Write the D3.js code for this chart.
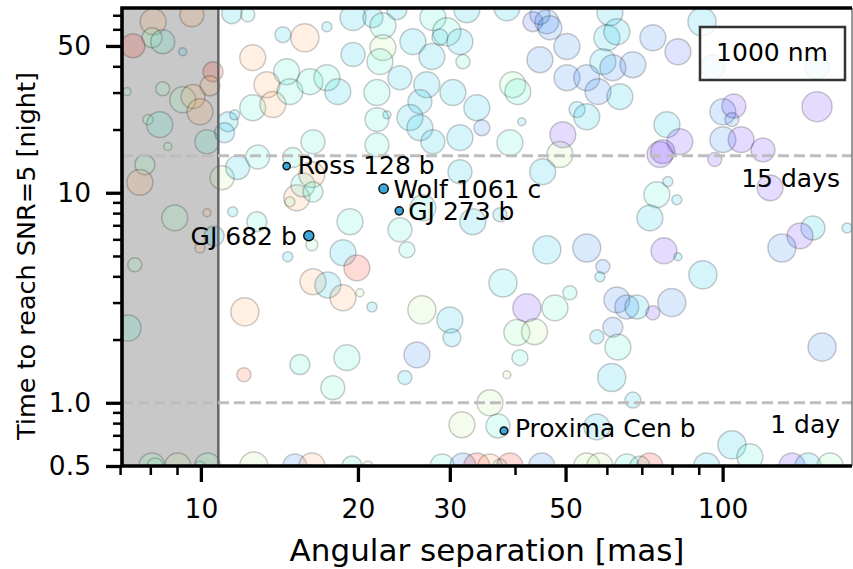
<!DOCTYPE html>
<meta charset="utf-8">
<html>
<head>
<style>
  body { margin: 0; background: #fff; }
  svg text { font-family: "DejaVu Sans", sans-serif; fill: #000; }
</style>
</head>
<body>
<svg width="853" height="569" id="chart"></svg>
<script src="https://d3js.org/d3.v7.min.js"></script>
<script>
// background planets: [separation mas, time nights, size, distance pc]
var bubbleSep = [8.10,9.61,7.41,8.06,8.45,9.23,10.55,10.41,8.45,9.23,9.66,9.96,7.92,8.34,8.64,10.27,7.81,7.64,10.98,8.91,
  10.27,7.47,7.25,7.22,9.96,10.6,11.27,11.61,11.1,12.57,11.76,11.51,12.8,14.36,12.57,14.6,13.38,13.74,14.81,12.3,
  15.27,15.69,12.85,15.0,11.46,14.81,16.32,15.82,17.44,19.57,21.37,22.33,23.75,27.84,29.6,28.72,31.37,32.34,25.49,19.57,
  22.33,22.04,27.72,31.79,16.18,17.44,18.3,21.75,27.1,26.29,30.41,33.8,21.75,22.73,25.16,26.29,27.84,31.37,34.56,16.4,
  21.75,16.4,19.31,26.64,31.37,33.2,24.07,38.6,43.29,46.03,44.65,46.66,60.81,60.0,62.7,50.3,44.65,73.5,58.95,61.6,
  67.3,50.3,54.9,57.7,63.55,39.6,40.5,52.6,54.9,41.2,49.4,39.11,48.76,45.2,37.43,75.82,74.8,72.54,78.5,81.7,
  91.3,82.1,95.8,151.7,100.1,105.1,104.2,100.1,108.5,119.5,96.6,151.7,78.2,82.8,76.8,123.3,149.0,140.7,173.2,129.9,
  12.14,12.09,14.67,15.48,16.4,16.32,18.72,19.91,17.51,18.72,20.17,21.28,24.83,26.52,30.01,30.28,25.95,19.05,24.6,17.9,
  31.65,46.03,54.9,58.95,58.18,77.2,37.93,50.97,42.15,47.7,40.33,43.6,40.88,38.6,62.7,65.5,68.5,73.5,61.6,57.4,
  63.0,61.3,67.3,35.81,57.4,37.1,82.1,91.65,79.9,155.1,104.2,112.8,24.07,
  8.06,8.17,9.03,9.96,10.3,12.63,15.14,16.32,19.48,20.9,29.0,31.79,33.8,35.81,37.43,39.11,45.0,54.9,58.18,65.5,
  69.41,72.54,93.2,135.8,145.8,160.7];
var bubbleTime = [65.2,70.4,50.1,54.7,52.4,46.9,37.7,32.3,31.3,27.7,28.7,24.3,22.3,21.1,16.6,17.5,13.6,11.2,11.8,7.59,
  8.03,4.54,2.27,30.3,5.46,6.23,21.8,23.5,19.3,25.4,13.2,8.12,7.28,56.6,44.0,37.7,32.7,26.3,30.3,70.4,
  9.46,10.9,14.8,14.7,71.2,9.06,12.2,54.7,61.7,68.2,68.2,62.4,74.4,68.2,58.4,55.1,52.4,74.4,52.4,45.5,
  49.1,42.1,44.5,42.1,33.8,35.3,30.3,30.0,32.7,27.1,30.0,25.4,22.3,23.5,22.8,20.4,17.5,18.3,20.4,17.5,
  16.9,10.1,7.28,8.48,12.6,7.28,35.3,76.0,65.2,65.2,70.4,61.0,72.0,54.7,58.4,49.7,43.0,54.7,42.1,39.4,
  40.7,35.3,35.3,30.3,28.7,32.7,30.3,24.9,23.0,21.8,18.9,17.3,15.2,12.6,7.86,15.2,9.79,7.59,11.3,9.26,
  65.2,46.9,39.8,39.8,24.3,25.9,22.3,17.9,17.9,16.0,14.4,25.7,21.1,17.5,15.7,10.55,6.80,6.23,6.80,5.46,
  2.71,1.36,4.96,1.52,3.77,5.65,5.18,4.39,3.64,3.16,3.34,2.86,5.35,2.77,2.48,2.04,1.69,1.64,1.32,1.18,
  0.786,5.35,5.46,4.45,3.98,5.29,3.72,3.34,2.83,2.83,2.16,2.18,1.64,1.36,3.09,2.86,2.86,2.68,2.29,2.06,
  1.84,1.32,1.03,1.0,0.768,0.776,4.96,4.07,3.0,1.84,0.631,0.553,6.66,
  0.5,0.5,0.5,0.5,0.5,0.5,0.5,0.5,0.5,0.5,0.5,0.5,0.5,0.5,0.5,0.5,0.5,0.5,0.5,0.5,
  0.5,0.5,0.5,0.5,0.5,0.5];
var bubbleSize = [1.44,1.33,1.33,1.11,1.33,0.44,1.11,1.11,0.78,1.44,1.33,1.44,0.56,1.44,0.44,1.33,1.11,1.44,1.33,1.44,
  0.44,0.78,1.44,0.44,0.56,1.11,1.11,0.56,1.11,1.44,1.33,0.56,1.11,0.89,1.44,1.44,1.44,1.44,1.44,0.78,
  1.44,1.33,1.33,1.11,1.11,0.56,1.44,1.56,0.56,1.44,1.11,1.44,1.11,1.44,1.56,0.89,1.44,1.44,1.44,1.33,
  1.44,1.44,1.44,0.78,1.44,1.44,1.44,1.44,1.44,1.33,1.44,1.44,1.33,0.44,1.44,1.44,1.33,1.44,0.89,1.33,
  1.33,1.11,1.44,1.44,1.33,1.44,1.33,1.44,1.11,1.33,1.11,1.33,1.44,1.44,1.44,1.44,1.44,1.44,1.44,1.44,
  1.44,1.44,1.44,1.44,1.44,1.44,1.44,0.89,1.44,0.44,1.44,1.44,1.44,1.44,0.78,1.44,1.44,1.44,0.56,0.56,
  1.56,1.44,1.33,1.33,1.44,1.33,0.78,1.44,1.44,1.33,0.78,1.67,1.44,1.44,1.33,1.44,1.33,1.44,0.56,1.56,
  1.56,0.78,0.56,1.11,1.44,0.67,1.44,1.44,1.44,1.44,0.44,0.56,0.89,1.56,1.44,1.0,1.44,1.44,0.78,1.33,
  1.44,1.56,1.56,0.78,0.56,1.44,1.56,0.78,1.56,1.44,1.44,1.44,0.89,0.44,1.44,1.33,1.33,0.78,1.11,0.78,
  1.44,1.56,0.89,1.44,1.44,1.33,0.44,1.56,1.56,1.56,1.56,1.44,1.33,
  1.44,0.89,1.44,0.56,1.44,1.56,1.33,1.44,1.11,0.56,1.33,1.44,1.44,1.33,0.78,1.44,1.44,1.44,1.44,1.33,
  1.11,1.44,1.44,1.44,1.44,1.44];
var bubbleDist = [8,8,9.5,5.5,4.5,3.5,9.5,8,5.5,5.5,8,8,5.5,4.5,5.5,4.5,5.5,8,6.5,5.5,
  8,5.5,4.5,5.5,8,3.5,3.5,3.5,3.5,4.5,3.5,3.5,4.5,3.5,8,4.5,8,8,4.5,4.5,
  8,4.5,4.5,4.5,3.5,5.5,8,8,3.5,3.5,3.5,4.5,3.5,4.5,4.5,3.5,3.5,3.5,3.5,3.5,
  6.5,4.5,3.5,4.5,4.5,4.5,3.5,4.5,3.5,3.5,3.5,3.5,4.5,3.5,3.5,3.5,3.5,3.5,2.5,4.5,
  4.5,4.5,4.5,4.5,3.5,3.5,3.5,3.5,2,2.5,2.5,2.5,3.5,3.5,3.5,2.5,2.5,2.5,3.5,2.5,
  2.5,2.5,2.5,2.5,3.5,5.5,4.5,3.5,3.5,3.5,1.5,4.5,6.5,3.5,3.5,1.5,4.5,3.5,3.5,3.5,
  3.5,2,3.5,3.5,2.5,1.5,2.5,2.5,1.5,1.5,1.5,1.5,3.5,1.5,1.5,1.5,3.5,1.5,3.5,2.5,
  8,9,3.5,4.5,8,5.5,3.5,9.5,3.5,8,6.5,3.5,4.5,6.5,3.5,3.5,2.5,4.5,3.5,5,
  6.5,3.5,2.5,2.5,3.5,1.5,4,4.5,1.5,5,5.5,6.5,4.5,6.5,2.5,2.5,3.5,1.5,2.5,3.5,
  4.5,3.5,3.5,6.5,3.5,4.5,3.5,3.5,2.5,2.5,3.5,4.5,4.5,
  5.5,5.5,6.5,5.5,5.5,6.5,2.5,8,4.5,6.5,4.5,2.5,9.5,8,4.5,9.5,2.5,6.5,6.5,4.5,
  4.5,9.5,3.5,1.5,3.5,5.5];

// highlighted planets
var namedPlanets = ["Ross 128 b", "Wolf 1061 c", "GJ 273 b", "GJ 682 b", "Proxima Cen b"];
var namedSep = [14.6, 22.4, 24.0, 16.1, 38.1];
var namedTime = [13.4, 10.45, 8.2, 6.24, 0.736];
var namedSize = [0.4, 0.52, 0.45, 0.56, 0.42];

var xMajor = [10, 20, 30, 50, 100];
var xMinor = [7, 8, 9, 40, 60, 70, 80, 90];
var yMajor = [0.5, 1, 10, 50];
var yMinor = [0.6, 0.7, 0.8, 0.9, 2, 3, 4, 5, 6, 7, 8, 9, 20, 30, 40, 60, 70];
var iwaLimit = 10.8;
var dayLines = [15, 1];

(function () {
var svg = d3.select("#chart"),
    pLeft = 122, pRight = 852, pTop = 8, pBottom = 466;

var x = d3.scaleLog().domain([7.06, 177]).range([pLeft, pRight]);
var y = d3.scaleLog().domain([0.5, 75.8]).range([pBottom, pTop]);
var r = d3.scaleLinear().domain([0, 1]).range([0, 9]);
var col = d3.scaleLinear().domain([1, 10]).range([0, 1]);

// matplotlib "rainbow" colormap
function rainbow(t) {
  var rr = Math.min(1, Math.abs(2 * t - 0.5)),
      gg = Math.sin(Math.PI * t),
      bb = Math.cos(Math.PI * t / 2);
  return d3.rgb(rr * 255, gg * 255, bb * 255).toString();
}

svg.append("defs").append("clipPath").attr("id", "plotclip")
  .append("rect").attr("x", pLeft).attr("y", pTop)
  .attr("width", pRight - pLeft).attr("height", pBottom - pTop);

var plot = svg.append("g").attr("clip-path", "url(#plotclip)");

// inner working angle shading
plot.append("rect")
  .attr("x", pLeft).attr("y", pTop)
  .attr("width", x(iwaLimit) - pLeft).attr("height", pBottom - pTop)
  .attr("fill", "#c8c8c8");

var bubbles = d3.range(bubbleSep.length).map(function (i) {
  return { sep: bubbleSep[i], t: bubbleTime[i], s: bubbleSize[i], d: bubbleDist[i] };
});

plot.selectAll(".bubble")
  .data(bubbles)
  .enter().append("circle")
  .attr("class", "bubble")
  .attr("cx", function (d) { return x(d.sep); })
  .attr("cy", function (d) { return y(d.t); })
  .attr("r", function (d) { return r(d.s); })
  .attr("fill", function (d) { return rainbow(col(d.d)); })
  .attr("fill-opacity", 0.17)
  .attr("stroke", "#000")
  .attr("stroke-opacity", 0.2)
  .attr("stroke-width", 1.5);

plot.append("line")
  .attr("x1", x(iwaLimit)).attr("x2", x(iwaLimit))
  .attr("y1", pTop).attr("y2", pBottom)
  .attr("stroke", "#666").attr("stroke-width", 2.5);

plot.selectAll(".dayline")
  .data(dayLines)
  .enter().append("line")
  .attr("class", "dayline")
  .attr("x1", pLeft).attr("x2", pRight)
  .attr("y1", function (d) { return y(d); })
  .attr("y2", function (d) { return y(d); })
  .attr("stroke", "#bdbdbd").attr("stroke-width", 3)
  .attr("stroke-dasharray", "11,5");

// named planets
var named = namedPlanets.map(function (n, i) {
  return { name: n, sep: namedSep[i], t: namedTime[i], s: namedSize[i] };
});
var labelOffset = {
  "Ross 128 b": [11, 8, "start"],
  "Wolf 1061 c": [10, 9, "start"],
  "GJ 273 b": [9, 9, "start"],
  "GJ 682 b": [-12, 9, "end"],
  "Proxima Cen b": [11, 6, "start"]
};

var ng = svg.append("g");
ng.selectAll("circle")
  .data(named)
  .enter().append("circle")
  .attr("cx", function (d) { return x(d.sep); })
  .attr("cy", function (d) { return y(d.t); })
  .attr("r", function (d) { return r(d.s); })
  .attr("fill", "#3ca8dc")
  .attr("stroke", "#111")
  .attr("stroke-width", 1.5);

ng.selectAll("text")
  .data(named)
  .enter().append("text")
  .attr("x", function (d) { return x(d.sep) + labelOffset[d.name][0]; })
  .attr("y", function (d) { return y(d.t) + labelOffset[d.name][1]; })
  .attr("text-anchor", function (d) { return labelOffset[d.name][2]; })
  .style("font-size", "25px")
  .text(function (d) { return d.name; });

// day annotations
svg.append("text").attr("x", 840).attr("y", y(15) + 31)
  .attr("text-anchor", "end").style("font-size", "25px").text("15 days");
svg.append("text").attr("x", 840).attr("y", y(1) + 30)
  .attr("text-anchor", "end").style("font-size", "25px").text("1 day");

// wavelength box
svg.append("rect").attr("x", 700).attr("y", 27).attr("width", 145).attr("height", 53)
  .attr("fill", "#fff").attr("fill-opacity", 0.8)
  .attr("stroke", "#333").attr("stroke-width", 2.5);
svg.append("text").attr("x", 772).attr("y", 61)
  .attr("text-anchor", "middle").style("font-size", "25px").text("1000 nm");

// axes
function yFmt(d) { return d < 1 ? "0.5" : d === 1 ? "1.0" : String(d); }

var xAxisG = svg.append("g").attr("transform", "translate(0," + pBottom + ")");
xAxisG.call(d3.axisBottom(x).tickValues(xMajor).tickFormat(d3.format("d"))
  .tickSize(16).tickPadding(17));
var xMinorG = svg.append("g").attr("transform", "translate(0," + pBottom + ")");
xMinorG.call(d3.axisBottom(x).tickValues(xMinor).tickFormat("").tickSize(9));

var yAxisG = svg.append("g").attr("transform", "translate(" + pLeft + ",0)");
yAxisG.call(d3.axisLeft(y).tickValues(yMajor).tickFormat(yFmt)
  .tickSize(16).tickPadding(15));
var yMinorG = svg.append("g").attr("transform", "translate(" + pLeft + ",0)");
yMinorG.call(d3.axisLeft(y).tickValues(yMinor).tickFormat("").tickSize(9));

svg.selectAll(".domain").remove();
xAxisG.selectAll(".tick line").attr("stroke", "#000").attr("stroke-width", 3.3);
yAxisG.selectAll(".tick line").attr("stroke", "#000").attr("stroke-width", 3.3);
xMinorG.selectAll(".tick line").attr("stroke", "#000").attr("stroke-width", 2.5);
yMinorG.selectAll(".tick line").attr("stroke", "#000").attr("stroke-width", 2.5);
svg.selectAll(".tick text").style("font-size", "26.5px")
  .style("font-family", "DejaVu Sans").attr("fill", "#000");

// spines
svg.append("line").attr("x1", pRight).attr("x2", pRight).attr("y1", pTop).attr("y2", pBottom)
  .attr("stroke", "#777").attr("stroke-width", 1.5);
svg.append("path")
  .attr("d", "M" + pRight + "," + pTop + "H" + pLeft + "V" + pBottom + "H" + pRight)
  .attr("fill", "none").attr("stroke", "#000").attr("stroke-width", 3.6);

// axis labels
svg.append("text").attr("x", (pLeft + pRight) / 2).attr("y", 561)
  .attr("text-anchor", "middle").style("font-size", "31px")
  .text("Angular separation [mas]");
svg.append("text")
  .attr("transform", "translate(35,256) rotate(-90)")
  .attr("text-anchor", "middle").style("font-size", "25.5px")
  .text("Time to reach SNR=5 [night]");
})();
</script>
</body>
</html>
